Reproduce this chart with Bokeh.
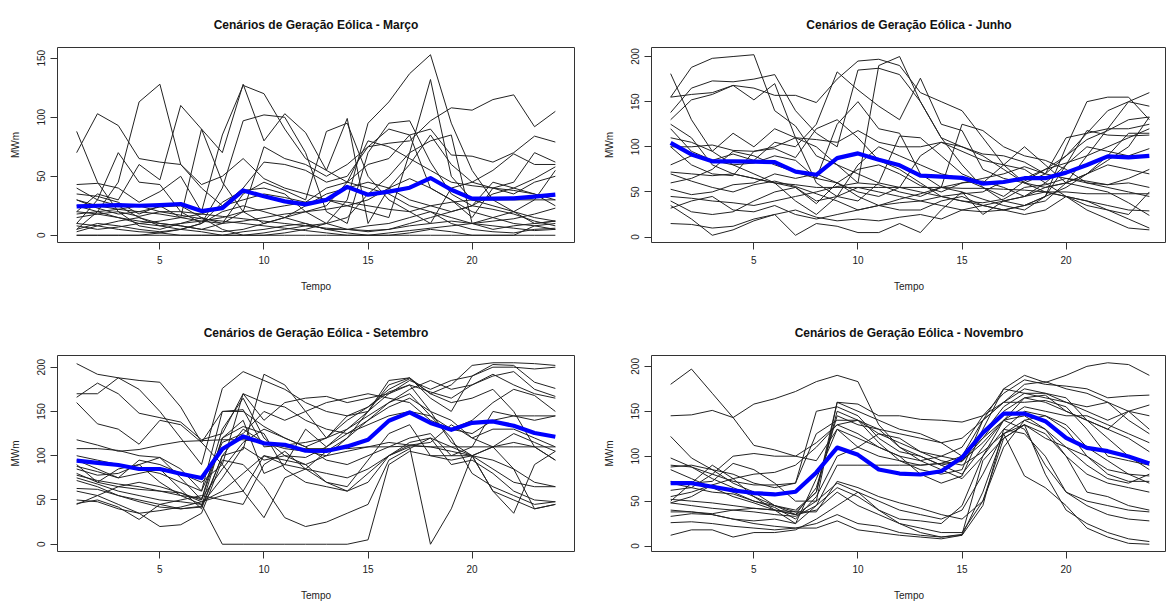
from bokeh.plotting import figure
from bokeh.layouts import column, row
from bokeh.models import Range1d, FixedTicker
from bokeh.embed import file_html
from bokeh.resources import INLINE

# Horas do dia (eixo x)
horas = list(range(1, 25))
xticks = [5, 10, 15, 20]

# ---------------- Março ----------------
marco_titulo = "Cenários de Geração Eólica - Março"
marco_yticks = [0, 50, 100, 150]
marco_media = [24.5, 25, 25.6, 25, 25.6, 26.5, 20.5, 23, 38, 33, 28.7, 26.2,
               30, 41, 34.4, 37, 40.3, 48.5, 38.6, 31, 31, 31.3, 32.7, 34.4]
marco_cenarios = [
    [88, 45, 20, 8, 5, 10, 15, 5, 0, 0, 2, 5, 10, 30, 95, 113, 137, 153, 95, 55, 30, 20, 10, 12],
    [70, 103, 93, 65, 62, 60, 43, 50, 65, 48, 40, 35, 30, 25, 20, 15, 70, 132, 50, 30, 25, 20, 15, 12],
    [5, 20, 45, 113, 128, 60, 40, 25, 40, 62, 60, 55, 45, 50, 75, 78, 80, 97, 108, 106, 115, 119, 92, 105],
    [20, 35, 30, 60, 47, 110, 90, 45, 20, 10, 15, 20, 25, 45, 60, 65, 85, 90, 68, 67, 62, 70, 84, 79],
    [43, 44, 40, 28, 37, 50, 20, 85, 127, 120, 90, 65, 55, 45, 40, 35, 25, 20, 15, 10, 15, 20, 30, 55],
    [35, 33, 28, 18, 25, 15, 90, 70, 128, 80, 103, 87, 55, 99, 10, 40, 60, 85, 60, 45, 40, 35, 45, 50],
    [10, 30, 70, 45, 43, 20, 10, 40, 97, 102, 100, 70, 20, 10, 70, 95, 97, 62, 35, 25, 45, 40, 35, 25],
    [25, 20, 15, 12, 10, 8, 5, 10, 35, 45, 38, 30, 88, 95, 50, 30, 20, 10, 40, 45, 55, 69, 60, 60],
    [30, 23, 18, 20, 24, 25, 15, 10, 20, 75, 65, 60, 50, 60, 75, 90, 85, 40, 30, 15, 40, 45, 70, 62],
    [15, 18, 20, 16, 20, 20, 18, 25, 30, 35, 32, 28, 40, 45, 80, 75, 65, 55, 45, 42, 40, 38, 35, 30],
    [0, 0, 0, 0, 2, 5, 3, 0, 0, 2, 5, 8, 10, 15, 35, 50, 70, 80, 85, 10, 5, 8, 10, 12],
    [5, 10, 8, 5, 3, 5, 10, 20, 25, 20, 15, 10, 5, 5, 8, 10, 15, 20, 10, 5, 3, 2, 5, 6],
    [20, 18, 15, 10, 8, 10, 12, 15, 20, 22, 25, 28, 30, 28, 25, 22, 20, 25, 28, 30, 30, 30, 30, 30],
    [10, 8, 5, 3, 2, 0, 0, 0, 3, 5, 8, 10, 5, 2, 0, 0, 2, 5, 3, 0, 0, 0, 8, 10],
    [0, 0, 0, 0, 0, 0, 0, 0, 0, 0, 0, 0, 0, 0, 0, 0, 0, 0, 0, 0, 0, 0, 0, 0],
    [30, 25, 22, 20, 18, 15, 12, 10, 12, 15, 18, 20, 22, 25, 30, 40, 48, 40, 30, 20, 15, 10, 8, 5],
    [40, 30, 25, 15, 10, 8, 5, 3, 5, 10, 15, 25, 35, 40, 45, 40, 30, 25, 20, 25, 35, 40, 48, 58],
    [8, 5, 7, 10, 12, 15, 18, 16, 14, 12, 10, 8, 6, 5, 4, 5, 8, 10, 12, 10, 8, 6, 4, 5],
    [18, 20, 22, 25, 20, 17, 14, 12, 10, 8, 6, 4, 2, 0, 0, 2, 4, 6, 8, 10, 12, 14, 18, 23],
    [3, 8, 12, 15, 8, 5, 10, 28, 38, 40, 35, 20, 10, 5, 3, 5, 10, 15, 20, 25, 22, 18, 12, 8],
]

# ---------------- Junho ----------------
junho_titulo = "Cenários de Geração Eólica - Junho"
junho_yticks = [0, 50, 100, 150, 200]
junho_media = [104.4, 91.6, 83.9, 84, 83.5, 83, 72.5, 69, 87.5, 92.7, 85.7, 79.5,
               68, 67, 65.6, 59.3, 61, 65.2, 65.2, 71.4, 79.8, 89.4, 88.3, 90]
junho_cenarios = [
    [181, 130, 95, 80, 70, 60, 40, 25, 45, 55, 50, 45, 40, 35, 30, 28, 30, 35, 40, 60, 90, 120, 150, 160],
    [155, 188, 198, 200, 202, 140, 123, 90, 80, 70, 60, 55, 50, 45, 40, 35, 30, 35, 45, 55, 70, 85, 100, 133],
    [155, 158, 160, 168, 165, 157, 157, 149, 175, 195, 197, 190, 160, 150, 140, 110, 80, 60, 50, 45, 40, 35, 30, 29],
    [138, 165, 173, 172, 175, 180, 140, 115, 100, 185, 187, 180, 150, 110, 80, 55, 40, 35, 45, 100, 150, 155, 155, 130],
    [130, 152, 158, 168, 152, 170, 110, 60, 45, 40, 60, 112, 110, 90, 70, 60, 80, 100, 80, 60, 70, 90, 115, 115],
    [120, 95, 85, 80, 82, 90, 85, 65, 125, 150, 120, 115, 70, 55, 50, 42, 35, 30, 45, 80, 118, 113, 112, 113],
    [110, 105, 95, 115, 100, 120, 110, 100, 80, 60, 190, 200, 150, 110, 100, 90, 75, 60, 55, 60, 70, 80, 75, 70],
    [100, 80, 70, 68, 95, 98, 88, 120, 130, 110, 85, 75, 60, 45, 40, 38, 42, 55, 58, 65, 62, 58, 60, 55],
    [80, 90, 85, 92, 85, 105, 100, 125, 183, 163, 145, 130, 176, 125, 118, 75, 65, 60, 70, 90, 108, 118, 130, 133],
    [72, 70, 68, 70, 65, 60, 58, 55, 55, 55, 55, 55, 55, 55, 54, 54, 53, 52, 50, 50, 48, 48, 48, 48],
    [70, 62, 55, 50, 58, 62, 56, 48, 40, 30, 35, 42, 48, 55, 125, 118, 100, 90, 85, 75, 60, 55, 50, 45],
    [53, 47, 50, 58, 60, 70, 65, 70, 60, 45, 35, 30, 30, 40, 45, 35, 30, 25, 30, 45, 30, 20, 10, 8],
    [45, 43, 40, 38, 35, 40, 45, 50, 56, 60, 58, 50, 45, 55, 60, 65, 70, 78, 70, 65, 60, 58, 65, 75],
    [40, 28, 25, 28, 40, 50, 55, 37, 60, 75, 80, 70, 57, 50, 60, 62, 55, 45, 60, 80, 100, 95, 90, 98],
    [32, 40, 45, 30, 28, 35, 25, 20, 25, 30, 35, 38, 40, 45, 48, 50, 62, 65, 75, 82, 90, 100, 110, 120],
    [15, 14, 10, 12, 20, 25, 30, 22, 18, 20, 18, 22, 25, 20, 30, 35, 40, 45, 55, 60, 55, 50, 38, 24],
    [35, 20, 2, 8, 18, 25, 2, 15, 12, 5, 5, 15, 5, 30, 50, 25, 40, 45, 50, 45, 40, 30, 20, 10],
    [125, 110, 80, 70, 65, 60, 55, 40, 45, 80, 100, 90, 80, 70, 65, 55, 45, 62, 75, 90, 115, 120, 120, 125],
    [60, 65, 75, 95, 90, 80, 72, 65, 60, 50, 45, 55, 90, 105, 95, 85, 80, 75, 60, 45, 35, 30, 25, 50],
    [100, 100, 102, 96, 95, 100, 110, 108, 105, 118, 105, 100, 100, 105, 100, 92, 90, 83, 70, 110, 115, 140, 150, 145],
]

# ---------------- Setembro ----------------
setembro_titulo = "Cenários de Geração Eólica - Setembro"
setembro_yticks = [0, 50, 100, 150, 200]
setembro_media = [94.4, 92, 89.5, 85, 85, 79.7, 74.8, 107.5, 121.8, 114, 112.4, 105.6,
                  105.3, 110.5, 118, 139.5, 148.9, 137, 129.3, 137.2, 138.7, 133.8, 125.6, 121.4]
setembro_cenarios = [
    [204, 192, 188, 185, 183, 155, 115, 150, 152, 110, 112, 115, 120, 140, 155, 175, 187, 170, 180, 202, 205, 205, 204, 202],
    [170, 170, 188, 175, 150, 120, 90, 176, 195, 185, 175, 160, 150, 145, 150, 185, 188, 165, 150, 190, 200, 200, 198, 200],
    [166, 182, 170, 148, 143, 138, 118, 125, 170, 140, 160, 165, 167, 160, 165, 170, 185, 175, 185, 190, 203, 202, 183, 176],
    [160, 136, 130, 113, 140, 135, 115, 90, 60, 30, 75, 85, 105, 120, 150, 180, 188, 170, 160, 165, 175, 150, 110, 95],
    [118, 112, 105, 107, 112, 116, 117, 118, 118, 115, 110, 108, 108, 108, 110, 110, 111, 110, 110, 110, 110, 110, 110, 110],
    [108, 108, 106, 100, 98, 85, 60, 150, 150, 133, 120, 110, 120, 145, 155, 172, 180, 172, 165, 180, 190, 195, 175, 167],
    [95, 85, 75, 95, 90, 80, 70, 90, 170, 160, 155, 140, 130, 125, 140, 160, 170, 145, 130, 140, 160, 175, 168, 150],
    [90, 70, 85, 90, 98, 75, 50, 130, 165, 120, 100, 90, 70, 60, 80, 100, 110, 0, 40, 100, 95, 85, 70, 65],
    [85, 78, 80, 90, 70, 55, 45, 0, 0, 0, 0, 0, 0, 0, 5, 90, 105, 100, 100, 110, 150, 145, 140, 145],
    [80, 70, 65, 62, 60, 58, 50, 120, 140, 80, 90, 130, 110, 130, 150, 170, 180, 150, 115, 100, 60, 50, 40, 45],
    [75, 68, 60, 55, 50, 48, 45, 75, 110, 95, 100, 98, 110, 125, 135, 145, 150, 145, 120, 80, 65, 55, 45, 48],
    [72, 65, 55, 48, 42, 40, 43, 120, 133, 125, 85, 70, 65, 60, 70, 100, 115, 120, 110, 100, 110, 125, 115, 105],
    [63, 62, 55, 50, 45, 40, 42, 100, 130, 115, 108, 105, 100, 105, 110, 115, 112, 110, 105, 100, 110, 115, 110, 95],
    [50, 48, 40, 35, 20, 22, 35, 95, 90, 65, 30, 20, 25, 35, 45, 95, 108, 120, 90, 95, 80, 60, 50, 48],
    [46, 50, 42, 28, 45, 50, 55, 50, 45, 90, 105, 85, 80, 75, 85, 100, 112, 115, 135, 120, 130, 130, 120, 110],
    [45, 55, 65, 70, 65, 58, 48, 55, 60, 100, 95, 90, 100, 120, 140, 155, 165, 150, 140, 120, 110, 85, 40, 45],
    [100, 95, 90, 85, 80, 70, 60, 115, 125, 150, 140, 150, 160, 165, 170, 165, 160, 140, 130, 125, 140, 145, 145, 145],
    [88, 82, 75, 80, 85, 62, 40, 100, 107, 192, 180, 150, 120, 130, 145, 160, 175, 185, 175, 180, 192, 180, 170, 165],
    [60, 55, 45, 35, 38, 42, 48, 60, 80, 100, 90, 85, 70, 65, 95, 125, 135, 100, 95, 100, 60, 35, 90, 105],
    [78, 72, 68, 65, 60, 55, 52, 85, 115, 130, 120, 110, 95, 90, 100, 110, 120, 125, 100, 100, 85, 70, 65, 65],
]

# ---------------- Novembro ----------------
novembro_titulo = "Cenários de Geração Eólica - Novembro"
novembro_yticks = [0, 50, 100, 150, 200]
novembro_media = [70, 70, 66, 62, 59, 57.4, 60.4, 81.9, 109.6, 101.5, 85.2, 80.7,
                  79.6, 83.3, 98.5, 126, 147.4, 147.4, 139, 120.4, 109.3, 105.6, 99.6, 91.9]
novembro_cenarios = [
    [180, 197, 170, 143, 112, 107, 100, 95, 130, 110, 100, 95, 90, 92, 100, 140, 175, 190, 182, 190, 200, 204, 202, 190],
    [145, 146, 151, 143, 158, 164, 172, 183, 190, 183, 135, 110, 95, 100, 110, 145, 170, 185, 180, 178, 175, 165, 167, 168],
    [122, 98, 85, 70, 60, 45, 35, 65, 145, 135, 130, 125, 120, 115, 100, 120, 150, 165, 168, 150, 140, 130, 120, 105],
    [98, 88, 75, 65, 55, 45, 38, 60, 160, 150, 140, 130, 125, 115, 120, 140, 160, 180, 183, 175, 170, 160, 140, 125],
    [90, 88, 80, 72, 68, 68, 70, 150, 155, 145, 120, 105, 100, 90, 80, 110, 140, 165, 160, 150, 140, 120, 100, 85],
    [88, 90, 85, 80, 70, 65, 70, 125, 140, 140, 125, 115, 105, 100, 95, 125, 155, 170, 165, 160, 150, 140, 150, 145],
    [72, 70, 72, 92, 85, 70, 50, 50, 160, 158, 145, 145, 141, 140, 138, 145, 160, 175, 170, 160, 155, 160, 150, 130],
    [62, 65, 80, 100, 103, 100, 100, 115, 135, 140, 130, 110, 100, 90, 95, 115, 140, 155, 150, 145, 145, 135, 125, 115],
    [55, 60, 68, 75, 80, 82, 90, 110, 135, 125, 110, 100, 95, 85, 75, 100, 130, 150, 145, 135, 110, 95, 80, 70],
    [50, 70, 90, 75, 55, 40, 35, 50, 70, 60, 50, 40, 35, 30, 40, 80, 125, 135, 120, 110, 100, 85, 80, 78],
    [48, 45, 42, 40, 38, 35, 33, 45, 90, 90, 90, 90, 90, 92, 94, 120, 140, 145, 130, 100, 80, 70, 65, 60],
    [52, 50, 48, 45, 42, 40, 38, 38, 72, 65, 55, 48, 42, 35, 30, 50, 110, 140, 130, 110, 90, 75, 70, 80],
    [40, 38, 35, 30, 28, 30, 25, 45, 65, 55, 40, 30, 28, 25, 45, 100, 140, 130, 90, 60, 50, 45, 40, 38],
    [38, 38, 36, 40, 42, 40, 35, 40, 60, 45, 35, 25, 20, 15, 15, 50, 120, 135, 80, 40, 25, 15, 8, 5],
    [33, 36, 35, 30, 25, 22, 20, 25, 35, 25, 22, 15, 12, 10, 12, 45, 130, 125, 100, 60, 45, 35, 30, 28],
    [26, 27, 25, 22, 20, 18, 20, 20, 28, 18, 15, 12, 10, 8, 12, 60, 125, 78, 65, 45, 20, 10, 3, 2],
    [12, 18, 18, 10, 15, 15, 18, 30, 45, 60, 40, 25, 15, 10, 13, 95, 120, 135, 125, 100, 60, 55, 45, 40],
    [48, 55, 68, 60, 50, 43, 30, 55, 100, 110, 125, 120, 105, 95, 90, 105, 125, 140, 145, 130, 100, 80, 72, 72],
    [85, 75, 65, 55, 48, 40, 25, 75, 130, 120, 110, 100, 80, 70, 78, 130, 175, 170, 170, 165, 140, 130, 150, 157],
    [70, 65, 60, 58, 50, 45, 40, 60, 150, 140, 115, 95, 85, 80, 85, 140, 160, 160, 162, 155, 130, 100, 95, 90],
]

FONTE = "Liberation Sans"
TEXTO = "#222222"


def painel(titulo, cenarios, media, yticks, lado, linha):
    # margens de cada painel (coluna esquerda/direita, linha superior/inferior)
    if lado == "esq":
        borda_esq, borda_dir = 57, 9
    else:
        borda_esq, borda_dir = 68, 0
    if linha == "sup":
        borda_sup, borda_inf = 46, 61
    else:
        borda_sup, borda_inf = 52, 55
    largura, altura = 583, 303
    largura_quadro = largura - borda_esq - borda_dir

    # intervalo do eixo x no estilo do R (4% de folga), mesma escala nos dois lados
    x0 = min(horas) - 0.04 * (max(horas) - min(horas))
    x1 = max(horas) + 0.04 * (max(horas) - min(horas))
    escala = 517.0 / (x1 - x0)
    x1 = x0 + largura_quadro / escala

    todos = [v for c in cenarios for v in c] + media
    lo, hi = min(todos), max(todos)
    folga = 0.04 * (hi - lo)

    p = figure(width=largura, height=altura, output_backend="svg", toolbar_location=None,
               x_range=Range1d(x0, x1), y_range=Range1d(lo - folga, hi + folga),
               min_border_left=borda_esq, min_border_right=borda_dir,
               min_border_top=borda_sup, min_border_bottom=borda_inf,
               title=titulo)
    p.title.align = "center"
    p.title.text_font = FONTE
    p.title.text_font_size = "12px"
    p.title.text_font_style = "bold"
    p.title.text_color = "#111111"
    p.title.standoff = 31

    p.grid.visible = False
    p.outline_line_color = "#333333"
    p.outline_line_width = 1
    p.background_fill_color = "white"
    p.border_fill_color = "white"

    p.multi_line([horas] * len(cenarios), cenarios, line_color="#222222",
                 line_width=1, line_join="round")
    p.line(horas, media, line_color="#0000FF", line_width=4.2, line_join="round")

    for ax in (p.xaxis, p.yaxis):
        ax.axis_line_color = None
        ax.major_tick_in = 0
        ax.major_tick_out = 7
        ax.major_tick_line_color = "#333333"
        ax.minor_tick_line_color = None
        ax.major_label_text_font = FONTE
        ax.major_label_text_font_size = "10px"
        ax.major_label_text_color = TEXTO
        ax.axis_label_text_font = FONTE
        ax.axis_label_text_font_size = "10px"
        ax.axis_label_text_font_style = "normal"
        ax.axis_label_text_color = TEXTO

    p.xaxis.ticker = FixedTicker(ticks=xticks)
    p.yaxis.ticker = FixedTicker(ticks=yticks)
    p.xaxis.axis_label = "Tempo"
    p.yaxis.axis_label = "MWm"
    p.yaxis.major_label_orientation = "vertical"
    p.xaxis.major_label_standoff = 6
    p.yaxis.major_label_standoff = 5
    p.xaxis.axis_label_standoff = 14
    p.yaxis.axis_label_standoff = 14
    return p


p1 = painel(marco_titulo, marco_cenarios, marco_media, marco_yticks, "esq", "sup")
p2 = painel(junho_titulo, junho_cenarios, junho_media, junho_yticks, "dir", "sup")
p3 = painel(setembro_titulo, setembro_cenarios, setembro_media, setembro_yticks, "esq", "inf")
p4 = painel(novembro_titulo, novembro_cenarios, novembro_media, novembro_yticks, "dir", "inf")

layout = column(row(p1, p2), row(p3, p4))
open("out.html", "w").write(file_html(layout, INLINE))
